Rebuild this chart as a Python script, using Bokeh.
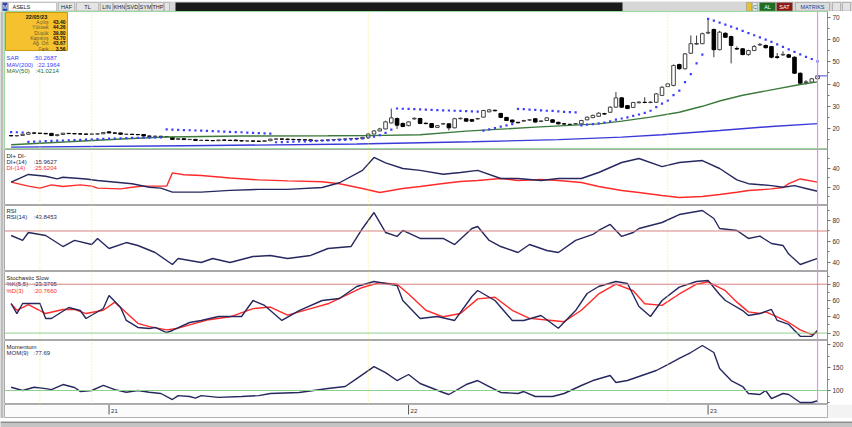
import datetime as dt
from bokeh.plotting import figure
from bokeh.models import Range1d, Span, FixedTicker
from bokeh.layouts import column, row
from bokeh.embed import file_html
from bokeh.resources import INLINE
from bokeh.core.properties import value

# ---------------- data ----------------
start_date = dt.date(2020, 9, 7)
n_bars = 141
dates = [start_date + dt.timedelta(weeks=k) for k in range(n_bars)]

opens = [16.8,16.7,16.9,17.4,18.0,17.9,17.8,17.8,16.8,17.3,17.8,17.7,17.6,17.5,17.4,17.5,17.6,18.5,18.0,18.0,
         17.4,17.4,17.3,17.3,16.6,16.5,16.5,16.4,16.0,15.1,15.4,15.0,15.1,14.6,14.7,14.6,14.5,14.8,14.7,14.8,
         14.5,14.4,14.4,14.3,14.2,14.5,15.2,15.3,15.2,15.1,15.0,14.9,14.9,14.5,14.6,14.7,14.9,15.0,15.2,15.3,
         15.5,15.4,16.0,17.5,18.9,19.8,22.5,24.5,22.3,21.3,24.3,24.5,22.4,22.2,20.5,22.0,22.1,20.3,24.4,24.4,
         24.0,24.3,25.1,27.5,28.2,26.8,25.0,23.8,22.8,23.3,23.8,24.4,23.2,23.6,23.9,22.8,22.1,21.9,22.0,22.1,
         23.9,24.9,25.5,26.7,27.3,29.6,33.8,30.3,29.5,31.6,31.8,31.7,31.8,34.9,38.9,39.4,48.8,46.9,53.9,58.0,
         58.2,63.0,64.6,55.5,62.9,61.4,56.0,55.9,53.3,55.1,57.6,57.4,56.9,52.3,53.1,53.2,52.1,44.9,40.7,40.9,
         42.4]
highs = [17.0,17.0,17.6,18.6,18.2,18.1,18.0,18.0,17.4,18.0,18.0,17.9,17.8,17.7,17.7,17.8,18.3,18.7,18.2,18.1,
         17.6,17.6,17.5,17.4,16.8,16.7,16.7,16.6,16.1,15.6,15.6,15.3,15.2,14.9,14.9,14.8,14.9,15.0,14.9,15.0,
         14.7,14.6,14.6,14.5,14.6,15.4,15.5,15.5,15.4,15.3,15.2,15.1,15.0,14.7,14.8,15.0,15.1,15.3,15.4,15.6,
         15.7,16.2,17.8,19.2,20.3,23.5,29.0,25.0,22.6,23.3,25.0,24.8,22.6,22.4,21.5,22.5,22.3,24.8,24.9,24.7,
         24.2,24.8,28.4,28.8,28.5,27.0,25.2,24.0,23.0,23.9,24.2,24.6,23.6,25.1,24.1,23.0,22.4,22.1,22.4,23.9,
         25.4,26.2,27.3,27.1,30.0,36.4,34.2,30.6,32.0,32.3,34.1,32.2,36.0,39.0,40.6,48.8,49.2,54.0,61.9,61.9,
         63.2,69.5,65.0,64.0,63.3,61.8,57.0,56.2,55.5,57.6,58.5,57.8,57.2,54.0,54.8,53.6,52.5,45.2,41.8,42.8,
         44.26]
lows = [16.5,16.4,16.7,17.2,17.7,17.6,17.4,16.6,16.5,17.2,17.5,17.4,17.3,17.2,17.2,17.3,17.5,17.9,17.7,17.2,
        17.2,17.1,17.0,16.4,16.2,16.3,16.2,16.1,14.9,14.8,14.9,14.8,14.4,14.4,14.4,14.3,14.4,14.5,14.4,14.4,
        14.3,14.2,14.1,14.0,14.1,14.4,15.0,15.0,14.9,14.8,14.7,14.6,14.3,14.3,14.4,14.6,14.7,14.9,15.0,15.1,
        15.2,15.3,15.9,17.4,18.7,19.6,22.3,19.8,20.6,21.0,24.0,22.0,21.9,20.2,20.3,21.8,19.1,20.1,24.1,23.1,
        23.1,24.0,24.9,27.3,27.7,24.7,23.4,22.6,22.3,23.1,23.5,22.7,23.0,23.4,22.6,21.8,21.8,21.5,21.7,22.0,
        23.7,24.7,25.3,26.2,27.0,29.3,29.2,28.7,29.3,31.3,31.4,31.4,31.5,34.6,38.6,39.0,46.5,46.6,53.6,57.7,
        58.0,62.5,52.1,55.2,60.8,49.3,55.5,53.0,52.8,54.9,57.3,56.0,51.6,51.4,52.8,51.8,44.6,40.1,39.8,40.6,
        42.0]
closes = [16.7,16.8,17.4,18.1,17.9,17.8,17.6,16.8,17.2,17.9,17.7,17.6,17.5,17.4,17.5,17.6,18.2,18.0,17.9,17.4,
          17.4,17.3,17.2,16.6,16.5,16.5,16.4,16.3,15.1,15.4,15.0,15.1,14.6,14.7,14.6,14.5,14.8,14.7,14.6,14.5,
          14.4,14.4,14.3,14.2,14.5,15.2,15.3,15.2,15.1,15.0,14.9,14.8,14.5,14.6,14.7,14.9,15.0,15.2,15.3,15.5,
          15.4,16.0,17.5,18.9,19.8,23.0,24.8,21.5,20.9,23.0,24.6,22.3,22.2,20.5,21.3,22.2,20.3,24.4,24.6,23.3,
          23.3,24.5,28.1,28.4,28.0,25.0,23.6,22.9,22.6,23.6,23.9,22.9,23.4,24.8,22.8,22.1,22.0,21.8,22.2,23.6,
          25.1,25.9,26.9,26.5,29.6,33.8,29.6,29.0,31.7,31.9,31.7,31.9,35.6,38.6,40.1,48.4,46.9,53.6,58.2,58.3,
          62.7,63.3,55.5,63.4,61.1,57.4,55.8,53.3,55.1,56.9,57.9,56.4,52.1,52.0,53.4,52.1,44.9,40.4,41.0,42.4,
          43.7]
sar = [18.4,18.3,18.2,
       14.0,14.1,14.2,14.3,14.4,14.5,14.6,14.7,14.8,14.9,15.0,15.1,15.2,15.3,15.4,15.5,15.6,15.7,15.75,15.8,15.85,15.9,15.95,16.0,
       19.6,
       19.5,19.4,19.3,19.2,19.1,19.0,18.9,18.8,18.7,18.6,18.5,18.4,18.3,18.1,18.0,17.9,17.8,17.7,
       13.8,13.9,14.0,14.1,14.15,14.2,14.3,14.4,14.5,14.6,14.7,14.8,14.9,15.1,15.3,
       15.5,15.8,16.3,17.0,18.0,19.5,
       29.0,28.9,28.8,28.7,28.6,28.5,28.4,28.3,28.2,28.1,28.0,27.9,27.8,27.7,27.6,
       19.0,19.6,20.2,20.8,21.4,22.0,
       28.8,28.7,28.5,28.4,28.2,28.0,27.9,27.7,27.5,27.4,27.3,
       21.4,21.7,22.0,22.3,22.7,23.2,
       24.0,24.5,25.0,25.7,26.3,27.0,28.0,29.6,31.2,32.6,35.0,37.1,40.9,44.5,49.3,53.3,
       69.4,68.6,67.7,66.8,65.9,65.0,64.0,63.0,62.0,61.0,60.0,59.0,57.9,56.8,55.6,54.5,53.4,52.3,51.3,50.27]

mav200_idx = [0, 30, 60, 80, 95, 106, 113, 123, 132, 140]
mav200_val = [11.6, 12.2, 13.0, 14.0, 15.0, 16.1, 17.2, 19.1, 20.9, 22.2]
mav50_idx = [0, 10, 20, 27, 40, 55, 62, 71, 79, 91, 102, 106, 111, 116, 120, 123, 127, 132, 137, 140]
mav50_val = [12.7, 14.0, 15.4, 16.2, 16.6, 16.7, 16.8, 17.2, 18.8, 20.6, 22.1, 23.3, 25.1, 27.3, 30.0, 32.4, 35.0, 37.4, 39.8, 41.0]

dip_idx = [0,3,6,8,9,13,15,21,24,26,28,33,38,43,48,54,57,61,63,65,68,71,75,78,81,85,88,92,95,99,102,106,109,113,116,120,123,126,128,132,134,136,138,140]
dip_val = [25.6,33.7,31.9,29.1,30.8,29.0,27.4,23.9,20.3,19.3,15.1,15.1,17.0,18.0,18.0,20.0,25.0,38.0,51.6,46.0,40.0,38.0,34.0,35.8,38.0,29.5,29.5,27.4,29.5,29.5,35.8,46.3,50.5,42.0,46.3,48.4,40.0,28.0,24.0,22.0,20.3,22.0,19.0,16.0]
dim_idx = [0,3,5,7,9,12,14,15,19,21,23,27,28,30,33,38,43,48,54,57,61,64,68,71,75,78,81,85,88,92,95,99,102,106,109,113,116,120,123,126,128,132,134,135,137,140]
dim_val = [25.6,21.4,19.3,22.8,21.0,22.8,21.4,19.3,18.6,20.3,21.4,21.4,35.4,33.4,32.6,30.0,28.0,27.0,26.0,24.0,18.9,14.7,18.9,21.1,24.2,26.3,27.4,29.5,27.4,28.4,27.4,25.3,21.1,16.8,14.7,11.6,9.5,10.5,12.6,15.0,16.8,18.5,20.0,24.0,29.0,25.6]

rsi_idx = [0,2,3,6,9,11,14,15,17,20,22,25,28,29,33,35,38,42,45,48,52,55,59,61,63,65,67,68,71,75,77,80,81,83,85,88,90,93,95,98,101,102,104,106,108,109,113,116,120,122,123,126,128,130,132,134,135,137,140]
rsi_val = [65.7,61,68.6,65.7,55.2,61,57.1,62.9,53.3,59,56.2,49.5,38.1,43.8,40,43.8,40,45.7,46.7,43.8,46.7,53.3,55.2,72.4,87.6,68.6,64.8,70.5,62.9,62.9,57.1,72.4,74.3,61,55.2,49.5,57.1,51.4,49.5,61,66.7,70.5,76.2,64.8,68.6,72.4,78.1,85.7,89.5,81.9,72.4,70.5,62.9,65.1,58.1,56.2,48,38.1,43.85]

stk_idx = [0,1,2,5,6,7,10,12,13,16,17,19,20,22,24,25,27,28,31,33,36,40,42,44,47,50,54,57,60,63,65,67,68,71,74,77,80,81,84,87,89,92,95,98,100,102,105,107,109,111,113,116,119,121,123,124,127,128,130,132,133,135,137,139,140]
stk_val = [56.3,44,56.3,56.3,37.9,37.9,51.4,47.7,37.9,50.2,66.1,51.4,35.5,26.9,25.6,26.9,20.7,23.2,33,35.5,40.4,40.4,60,53.9,35.5,47.7,60,62.5,77.2,83.3,80.9,78.4,60,37.9,40.4,35.5,64.9,72.3,60,35.5,35.5,41.6,26,47.7,68.6,77.2,83.3,80.9,52.6,40.4,60,76.4,83.3,84.5,67.4,60,47.7,41.6,44,49,35.5,30.6,16,16,23.38]
std_idx = [0,1,3,6,9,11,13,16,18,20,22,24,27,29,31,34,38,42,45,48,52,55,58,61,64,67,69,72,75,78,81,84,87,90,93,96,99,102,105,108,110,113,116,119,121,124,126,128,130,131,133,135,137,139,140]
std_val = [56,48,55,44,49,49,44,48,58,45,32,28,24,26,30,36,40,50,52,42,50,56,66,76,82,80,68,48,40,44,62,64,48,38,36,34,48,68,80,72,56,54,68,80,83,72,58,46,44,46,40,33,24,18,20.77]

mom_idx = [0,2,4,6,7,9,11,12,14,16,18,20,22,24,26,28,29,31,32,33,36,40,43,45,50,55,58,60,63,65,67,69,71,75,76,79,81,83,85,88,89,91,94,96,99,101,104,105,107,109,112,114,116,118,120,122,123,125,127,128,130,131,132,134,135,137,139,140]
mom_val = [107,100,107,104,102,113,106.5,98,100,111,102,96.3,100,96.3,93.5,80.4,89,87,83.3,89,85,87,89,93.5,95.7,104.3,108.7,126,152,139,121.7,134.8,115.2,95.7,91.3,113,121.7,108.7,95.7,93.5,97.8,87,87,93.5,110.9,121.7,132.6,117.4,121.7,130.4,143.5,156.5,169.6,182.6,197.8,182.6,147.8,121.7,108.7,93.5,91.3,100,82.6,93.5,91.3,73.9,73.9,77.69]

event_dates = [dt.date(2020, 10, 12), dt.date(2020, 12, 14), dt.date(2021, 11, 15), dt.date(2022, 11, 14)]

price_ticks = [20, 30, 40, 50, 60, 70]
di_ticks = [20, 40]
rsi_ticks = [40, 60, 80]
stoch_ticks = [20, 40, 60, 80]
mom_ticks = [100, 150, 200]

# ---------------- layout ----------------
TOTAL_W = 852
LEFT = 4
W = TOTAL_W - LEFT
RIGHT = 25
FW = W - RIGHT
FONT = value("Liberation Sans")
NAVY = "#26285e"
RED = "#ff2a2a"

idx = list(range(n_bars))
last = n_bars - 1
xr = Range1d(-1.15, 141.73)
event_idx = [dates.index(d) for d in event_dates]
year_idx = [i for i in range(1, n_bars) if dates[i].year != dates[i - 1].year]


def make_panel(height, yr, ticks, outline="#a8a8a8"):
    p = figure(width=W, height=height, x_range=xr, y_range=Range1d(*yr),
               output_backend="svg", toolbar_location=None,
               y_axis_location="right", x_axis_location=None,
               min_border_left=0, min_border_right=RIGHT, min_border_top=0,
               min_border_bottom=0, background_fill_color="white",
               border_fill_color="white", outline_line_color=outline)
    p.grid.visible = False
    step = ticks[1] - ticks[0]
    ax = p.yaxis[0]
    ax.ticker = FixedTicker(ticks=ticks, minor_ticks=[t - step / 2 for t in ticks] + [ticks[-1] + step / 2])
    ax.axis_line_color = "#8c8c8c"
    ax.major_tick_line_color = "#707070"
    ax.minor_tick_line_color = "#707070"
    ax.major_tick_out = 3
    ax.major_tick_in = 0
    ax.minor_tick_out = 2
    ax.minor_tick_in = 0
    ax.major_label_standoff = 2
    ax.major_label_text_font = "Liberation Sans"
    ax.major_label_text_font_size = "6.5px"
    ax.major_label_text_color = "#333333"
    for e in event_idx:
        p.add_layout(Span(location=e, dimension="height", line_color="#f2e66a",
                          line_dash="1 2", line_width=1))
    p.add_layout(Span(location=last, dimension="height", line_color="#d89ad8", line_width=1.2))
    return p


def frame_y(yr, fh, px):
    return yr[1] - px / fh * (yr[1] - yr[0])


def frame_x(px):
    return xr.start + px / FW * (xr.end - xr.start)


def add_text(p, yr, fh, px_x, px_y, txt, color="#222222", align="left", size="6px", style="normal"):
    p.text(x=[frame_x(px_x)], y=[frame_y(yr, fh, px_y)], text=[txt], text_font=FONT,
           text_font_size=value(size), text_color=color, text_align=align,
           text_baseline="middle", text_font_style=style)


# ---- toolbar strip ----
TB_H = 11
tb = figure(width=TOTAL_W, height=TB_H, x_range=Range1d(0, TOTAL_W), y_range=Range1d(0, TB_H),
            output_backend="svg", toolbar_location=None, x_axis_location=None, y_axis_location=None,
            min_border=0, background_fill_color="#d6d6d6", border_fill_color="#d6d6d6",
            outline_line_color=None)
tb.grid.visible = False
btn_l = [2, 8, 58, 76, 100, 113, 126, 139, 152, 164]
btn_r = [7, 56, 74, 98, 112, 125, 138, 151, 163, 169]
btn_c = ["#2a46b0", "white", "#e4e4e4", "#e4e4e4", "#e4e4e4", "#e4e4e4", "#e4e4e4", "#e4e4e4", "#e4e4e4", "#e4e4e4"]
tb.quad(left=btn_l, right=btn_r, bottom=[1.5] * 10, top=[10] * 10, fill_color=btn_c, line_color="#9a9a9a", line_width=0.5)
tb.quad(left=[175], right=[622], bottom=[1.5], top=[10], fill_color="#1a1a1a", line_color=None)
tb.quad(left=[746, 752, 759, 776, 795, 832, 842], right=[751, 757, 775, 792, 829, 840, 850],
        bottom=[1.5] * 7, top=[10] * 7,
        fill_color=["#e8c030", "#e4e4e4", "#1f6e1f", "#8a1a1a", "#dcdcdc", "#e4e4e4", "#e4e4e4"],
        line_color="#8a8a8a", line_width=0.5)
tb_x = [4.5, 12, 66, 87, 106, 119, 132, 145, 157.5, 754.5, 767, 784, 812]
tb_t = ["M", "ASELS", "HAF", "TL", "LIN", "KHN", "SVD", "SYM", "THP", "C", "AL", "SAT", "MATRIKS"]
tb_c = ["white", "#222222", "#222222", "#222222", "#222222", "#222222", "#222222", "#222222", "#222222",
        "#1f8a1f", "white", "white", "#1a3a8a"]
tb_a = ["center", "left"] + ["center"] * 11
tb.text(x=tb_x, y=[5.8] * len(tb_x), text=tb_t, text_color=tb_c, text_align=tb_a,
        text_baseline="middle", text_font=FONT, text_font_size=value("5.5px"))

# ---- price panel ----
PR_H = 138
pr_yr = (10.54, 72.7)
pr = make_panel(PR_H, pr_yr, price_ticks, outline="#9fd89f")
up = [i for i in idx if closes[i] >= opens[i]]
dn = [i for i in idx if closes[i] < opens[i]]
pr.segment(x0=idx, x1=idx, y0=lows, y1=highs, line_color="#3a3a3a", line_width=1)
pr.vbar(x=up, width=0.62, bottom=[opens[i] for i in up], top=[closes[i] for i in up],
        fill_color="white", line_color="#404040", line_width=1)
pr.vbar(x=dn, width=0.62, bottom=[closes[i] for i in dn], top=[opens[i] for i in dn],
        fill_color="black", line_color="black", line_width=1)
pr.line(mav200_idx, mav200_val, line_color="#3a3ad8", line_width=1.4)
pr.line(mav50_idx, mav50_val, line_color="#3c7a3c", line_width=1.4)
pr.scatter(idx, sar, marker="square", size=2.2, fill_color="#3d3dff", line_color=None)
pr.segment(x0=[last], x1=[xr.end], y0=[closes[last]], y1=[closes[last]], line_color="#4a4ae0", line_width=1)

# legend box
pr.quad(left=[frame_x(1)], right=[frame_x(63)], top=[frame_y(pr_yr, PR_H, 1)], bottom=[frame_y(pr_yr, PR_H, 39)],
        fill_color="#f5c12e", line_color="#c99a10", line_width=1)
add_text(pr, pr_yr, PR_H, 32, 5, "22/05/23", color="#111111", align="center", size="5.5px", style="bold")
row_lab = ["Açılış", "Yüksek", "Düşük", "Kapanış", "Ağ. Ort", "Fark"]
row_val = ["43.40", "44.26", "39.80", "43.70", "43.67", "3.56"]
for k in range(6):
    add_text(pr, pr_yr, PR_H, 44, 10.5 + k * 5.3, row_lab[k], color="#6a5a30", align="right", size="5px")
    add_text(pr, pr_yr, PR_H, 61, 10.5 + k * 5.3, row_val[k], color="#111111", align="right", size="5px", style="bold")
add_text(pr, pr_yr, PR_H, 2, 46.5, "SAR", color="#3b3bff")
add_text(pr, pr_yr, PR_H, 29, 46.5, ":50.2687", color="#3b3bff")
add_text(pr, pr_yr, PR_H, 2, 53, "MAV(200)", color="#3b3bff")
add_text(pr, pr_yr, PR_H, 32, 53, ":22.1964", color="#3b3bff")
add_text(pr, pr_yr, PR_H, 2, 59.5, "MAV(50)", color="#2e6b2e")
add_text(pr, pr_yr, PR_H, 31, 59.5, ":41.0214", color="#2e6b2e")

# ---- DI panel ----
DI_H = 56
di_yr = (1.05, 60.0)
di = make_panel(DI_H, di_yr, di_ticks)
di.line(dim_idx, dim_val, line_color=RED, line_width=1.4)
di.line(dip_idx, dip_val, line_color=NAVY, line_width=1.4)
add_text(di, di_yr, DI_H, 2, 6, "DI+ DI-")
add_text(di, di_yr, DI_H, 2, 12, "DI+(14)", color=NAVY)
add_text(di, di_yr, DI_H, 29, 12, ":15.9627", color=NAVY)
add_text(di, di_yr, DI_H, 2, 18, "DI-(14)", color=RED)
add_text(di, di_yr, DI_H, 29, 18, ":25.6204", color=RED)

# ---- RSI panel ----
RS_H = 66
rs_yr = (31.4, 94.3)
rs = make_panel(RS_H, rs_yr, rsi_ticks)
rs.add_layout(Span(location=70, dimension="width", line_color="#d98080", line_width=1))
rs.line(rsi_idx, rsi_val, line_color=NAVY, line_width=1.4)
add_text(rs, rs_yr, RS_H, 2, 5, "RSI")
add_text(rs, rs_yr, RS_H, 2, 11, "RSI(14)", color=NAVY)
add_text(rs, rs_yr, RS_H, 29, 11, ":43.8453", color=NAVY)

# ---- Stochastic panel ----
ST_H = 69
st_yr = (10.9, 95.6)
st = make_panel(ST_H, st_yr, stoch_ticks)
st.add_layout(Span(location=80, dimension="width", line_color="#d98080", line_width=1))
st.add_layout(Span(location=20, dimension="width", line_color="#8fd08f", line_width=1))
st.line(std_idx, std_val, line_color=RED, line_width=1.4)
st.line(stk_idx, stk_val, line_color=NAVY, line_width=1.4)
add_text(st, st_yr, ST_H, 2, 6, "Stochastic Slow")
add_text(st, st_yr, ST_H, 2, 12, "%K(5,5)", color=NAVY)
add_text(st, st_yr, ST_H, 29, 12, ":23.3795", color=NAVY)
add_text(st, st_yr, ST_H, 2, 19, "%D(3)", color=RED)
add_text(st, st_yr, ST_H, 29, 19, ":20.7660", color=RED)

# ---- Momentum panel ----
MO_H = 64
mo_yr = (69.6, 208.7)
mo = make_panel(MO_H, mo_yr, mom_ticks)
mo.add_layout(Span(location=100, dimension="width", line_color="#8fd08f", line_width=1))
mo.line(mom_idx, mom_val, line_color=NAVY, line_width=1.4)
add_text(mo, mo_yr, MO_H, 2, 6, "Momentum")
add_text(mo, mo_yr, MO_H, 2, 12, "MOM(9)", color=NAVY)
add_text(mo, mo_yr, MO_H, 29, 12, ":77.69", color=NAVY)

# ---- x-axis strip ----
XA_H = 14
xa = figure(width=W, height=XA_H, x_range=xr, y_range=Range1d(0, XA_H),
            output_backend="svg", toolbar_location=None, x_axis_location=None, y_axis_location=None,
            min_border_left=0, min_border_right=RIGHT, min_border_top=0, min_border_bottom=0,
            background_fill_color="#fbfbfb", border_fill_color="#f3f3f3", outline_line_color="#b0b0b0")
xa.grid.visible = False
xa.segment(x0=year_idx, x1=year_idx, y0=[13.5] * len(year_idx), y1=[4] * len(year_idx),
           line_color="#555555", line_width=1)
xa.text(x=year_idx, y=[8] * len(year_idx), text=[dates[i].strftime("%y") for i in year_idx],
        x_offset=2, text_align="left", text_baseline="middle", text_font=FONT,
        text_font_size=value("6px"), text_color="#333333")

# ---- left border strip ----
PANEL_H = PR_H + DI_H + RS_H + ST_H + MO_H + XA_H
lb = figure(width=LEFT, height=PANEL_H, x_range=Range1d(0, 1), y_range=Range1d(0, 1),
            output_backend="svg", toolbar_location=None, x_axis_location=None, y_axis_location=None,
            min_border=0, background_fill_color="#bcbcbc", border_fill_color="#bcbcbc",
            outline_line_color=None)
lb.grid.visible = False
lb.quad(left=[0.7], right=[1], bottom=[0], top=[1], fill_color="#e8e8e8", line_color=None)

# ---- bottom strip ----
BB_H = 9
bb = figure(width=TOTAL_W, height=BB_H, x_range=Range1d(0, TOTAL_W), y_range=Range1d(0, BB_H),
            output_backend="svg", toolbar_location=None, x_axis_location=None, y_axis_location=None,
            min_border=0, background_fill_color="#c4c4c4", border_fill_color="#c4c4c4",
            outline_line_color=None)
bb.grid.visible = False
bb.quad(left=[0], right=[TOTAL_W], bottom=[7.5], top=[9], fill_color="#8c8c8c", line_color=None)

panels = column(pr, di, rs, st, mo, xa, spacing=0)
layout = column(tb, row(lb, panels, spacing=0), bb, spacing=0)
open("out.html", "w").write(file_html(layout, INLINE))
